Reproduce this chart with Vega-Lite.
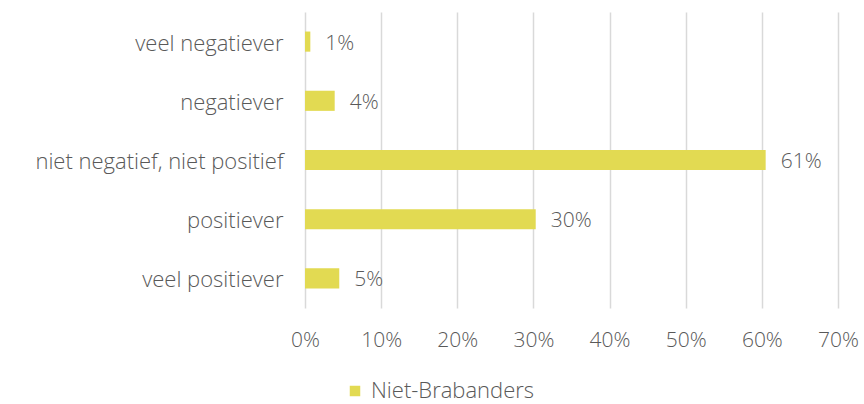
{
  "$schema": "https://vega.github.io/schema/vega-lite/v6.json",
  "width": 533,
  "height": 296,
  "autosize": "none",
  "padding": {"left": 305, "top": 12, "right": 26, "bottom": 96},
  "background": "white",
  "config": {
    "view": {"stroke": null},
    "font": "Open Sans",
    "axis": {"labelFont": "Open Sans", "labelColor": "#595959", "labelFontSize": 21, "labelFontWeight": 300},
    "legend": {"labelFont": "Open Sans", "labelColor": "#595959", "labelFontSize": 22, "labelFontWeight": 300, "labelLimit": 400}
  },
  "data": {
    "values": [
      {"categorie": "veel negatiever", "aandeel": 0.007, "label": "1%", "groep": "Niet-Brabanders"},
      {"categorie": "negatiever", "aandeel": 0.039, "label": "4%", "groep": "Niet-Brabanders"},
      {"categorie": "niet negatief, niet positief", "aandeel": 0.605, "label": "61%", "groep": "Niet-Brabanders"},
      {"categorie": "positiever", "aandeel": 0.303, "label": "30%", "groep": "Niet-Brabanders"},
      {"categorie": "veel positiever", "aandeel": 0.045, "label": "5%", "groep": "Niet-Brabanders"}
    ]
  },
  "encoding": {
    "y": {
      "field": "categorie",
      "type": "nominal",
      "sort": null,
      "scale": {"paddingInner": 0.66, "paddingOuter": 0.33},
      "axis": {"title": null, "ticks": false, "domain": false, "labelPadding": 22, "labelLimit": 400, "labelFontSize": 22, "labelOffset": 2}
    },
    "x": {
      "field": "aandeel",
      "type": "quantitative",
      "scale": {"domain": [0, 0.7], "nice": false},
      "axis": {
        "title": null,
        "format": ".0%",
        "values": [0, 0.1, 0.2, 0.3, 0.4, 0.5, 0.6, 0.7],
        "domain": false,
        "ticks": false,
        "grid": true,
        "gridColor": "#d9d9d9",
        "gridWidth": 1.5,
        "labelPadding": 21,
        "labelFlush": false
      }
    }
  },
  "layer": [
    {
      "mark": {"type": "bar"},
      "encoding": {
        "color": {
          "field": "groep",
          "type": "nominal",
          "scale": {"range": ["#e2da52"]},
          "legend": {
            "title": null,
            "orient": "none",
            "legendX": 39,
            "legendY": 368,
            "symbolType": "square",
            "symbolSize": 110,
            "symbolStrokeWidth": 0,
            "labelOffset": 5,
            "labelLimit": 400
          }
        }
      }
    },
    {
      "mark": {"type": "text", "align": "left", "dx": 15, "dy": 2, "fontSize": 21, "fontWeight": 300, "color": "#595959", "font": "Open Sans"},
      "encoding": {"text": {"field": "label"}}
    }
  ]
}
